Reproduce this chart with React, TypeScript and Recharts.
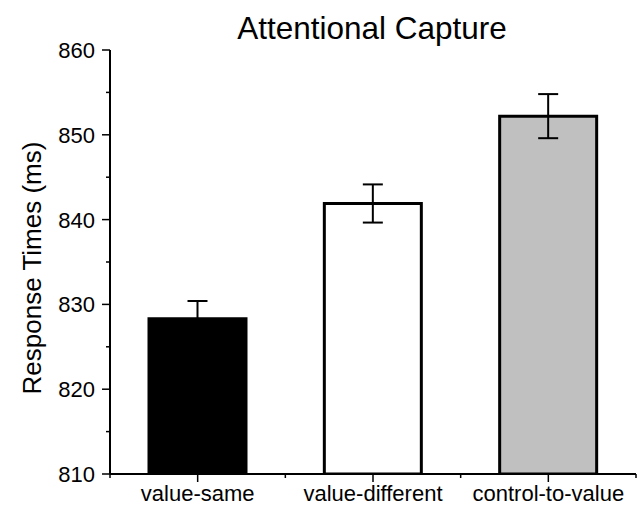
import React from "react";
import { BarChart, Bar, XAxis, YAxis, Cell, ErrorBar } from "recharts";

const categories = ["value-same", "value-different", "control-to-value"];
const meanRT = [828.3, 841.9, 852.2];
const errRT = [2.1, 2.25, 2.6];
const fills = ["#000000", "#ffffff", "#c0c0c0"];
const yTicks = [810, 815, 820, 825, 830, 835, 840, 845, 850, 855, 860];

const data = categories.map((name, i) => ({ name, rt: meanRT[i], err: errRT[i] }));

const W = 639;
const H = 507;
const M = { top: 50, right: 3, bottom: 3, left: 0 };
const YW = 110;
const XH = 30;
const PLOT_W = W - M.left - M.right - YW;
const HALF_BAND = PLOT_W / categories.length / 2;
const FONT = "'Liberation Sans', Arial, sans-serif";

const YTick = (props: any) => {
  const { x, y, payload } = props;
  const major = payload.value % 10 === 0;
  return (
    <g>
      <line x1={x - (major ? 8 : 4)} x2={x} y1={y} y2={y} stroke="#000" strokeWidth={1.5} />
      {major && (
        <text x={x - 15} y={y} dy="0.36em" textAnchor="end" fontSize={22} fontFamily={FONT} fill="#000">
          {payload.value}
        </text>
      )}
    </g>
  );
};

const XTick = (props: any) => {
  const { x, y, payload, index } = props;
  return (
    <g>
      <line x1={x} x2={x} y1={y} y2={y + 8} stroke="#000" strokeWidth={1.5} />
      <line x1={x + HALF_BAND} x2={x + HALF_BAND} y1={y} y2={y + 4} stroke="#000" strokeWidth={1.5} />
      {index === 0 && (
        <line x1={x - HALF_BAND} x2={x - HALF_BAND} y1={y} y2={y + 4} stroke="#000" strokeWidth={1.5} />
      )}
      <text x={x} y={y + 27} textAnchor="middle" fontSize={22} fontFamily={FONT} fill="#000">
        {payload.value}
      </text>
    </g>
  );
};

export default function App() {
  return (
    <div style={{ position: "absolute", left: 0, top: 0, width: W, height: H, background: "#fff" }}>
      <BarChart width={W} height={H} data={data} margin={M}>
        <XAxis
          dataKey="name"
          height={XH}
          axisLine={{ stroke: "#000", strokeWidth: 2 }}
          tickLine={false}
          tickSize={0}
          tickMargin={0}
          tick={<XTick />}
          interval={0}
        />
        <YAxis
          width={YW}
          domain={[810, 860]}
          ticks={yTicks}
          allowDataOverflow
          axisLine={{ stroke: "#000", strokeWidth: 2 }}
          tickLine={false}
          tickSize={0}
          tickMargin={0}
          tick={<YTick />}
          interval={0}
        />
        <Bar dataKey="rt" barSize={97} stroke="#000" strokeWidth={3} isAnimationActive={false}>
          {data.map((d, i) => (
            <Cell key={d.name} fill={fills[i]} />
          ))}
          <ErrorBar dataKey="err" width={10} stroke="#000" strokeWidth={2} isAnimationActive={false} />
        </Bar>
      </BarChart>
      <div
        style={{
          position: "absolute",
          left: 372,
          top: 10,
          transform: "translateX(-50%)",
          whiteSpace: "nowrap",
          fontFamily: FONT,
          fontSize: 31.5,
          lineHeight: "37px",
          color: "#000",
        }}
      >
        Attentional Capture
      </div>
      <div
        style={{
          position: "absolute",
          left: 32,
          top: 268,
          transform: "translate(-50%, -50%) rotate(-90deg)",
          whiteSpace: "nowrap",
          fontFamily: FONT,
          fontSize: 26,
          lineHeight: "30px",
          color: "#000",
        }}
      >
        Response Times (ms)
      </div>
    </div>
  );
}
